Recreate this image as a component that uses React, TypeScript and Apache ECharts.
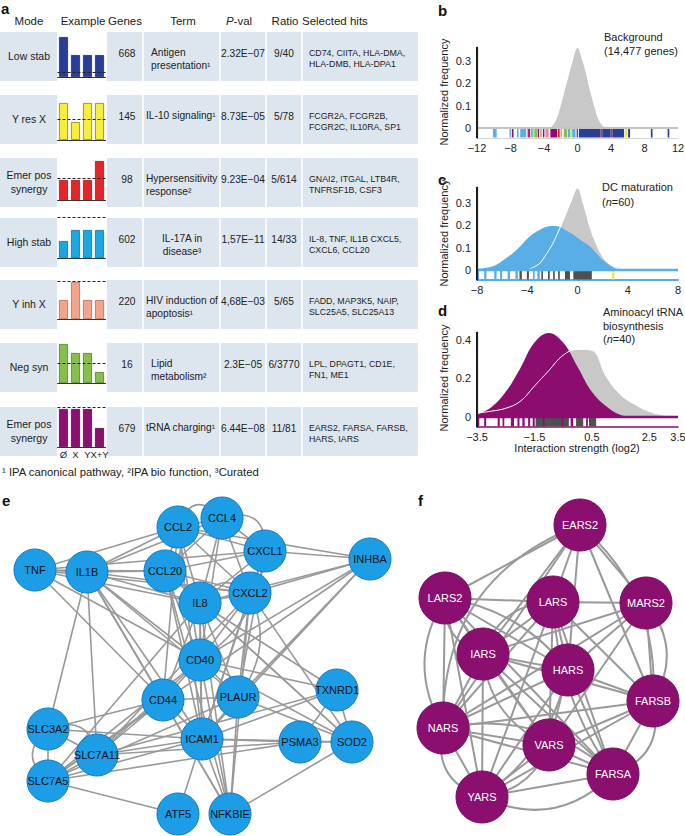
import React, { useEffect, useRef } from "react";
import * as echarts from "echarts";

const FONT = "'Liberation Sans', Arial, Helvetica, sans-serif";

// ---------------- Panel a: table data ----------------
const headers = ["Mode", "Example", "Genes", "Term", "P-val", "Ratio", "Selected hits"];
const modes = ["Low stab", "Y res X", "Emer pos\nsynergy", "High stab", "Y inh X", "Neg syn", "Emer pos\nsynergy"];
const geneCounts = ["668", "145", "98", "602", "220", "16", "679"];
const terms = [
  "Antigen\npresentation¹",
  "IL-10 signaling¹",
  "Hypersensitivity\nresponse²",
  "IL-17A in\ndisease³",
  "HIV induction of\napoptosis¹",
  "Lipid\nmetabolism²",
  "tRNA charging¹",
];
const pvals = ["2.32E−07", "8.73E−05", "9.23E−04", "1,57E−11", "4,68E−03", "2.3E−05", "6.44E−08"];
const ratios = ["9/40", "5/78", "5/614", "14/33", "5/65", "6/3770", "11/81"];
const hits = [
  "CD74, CIITA, HLA-DMA,\nHLA-DMB, HLA-DPA1",
  "FCGR2A, FCGR2B,\nFCGR2C, IL10RA, SP1",
  "GNAI2, ITGAL, LTB4R,\nTNFRSF1B, CSF3",
  "IL-8, TNF, IL1B CXCL5,\nCXCL6, CCL20",
  "FADD, MAP3K5, NAIP,\nSLC25A5, SLC25A13",
  "LPL, DPAGT1, CD1E,\nFN1, ME1",
  "EARS2, FARSA, FARSB,\nHARS, IARS",
];
const footnote = "¹ IPA canonical pathway, ²IPA bio function, ³Curated";

const exampleCats = ["Ø", "X", "Y", "X+Y"];
const exampleValues = [
  [40, 22, 22, 22],
  [37, 18, 37, 37],
  [20, 20, 20, 39],
  [17, 28, 28, 28],
  [19, 37, 19, 19],
  [39, 30, 30, 11],
  [38, 38, 38, 19],
];
const exampleExpected = [5, 21, 22, 41, 38, 20, 40];
const exampleColors = ["#283d97", "#f6ee3c", "#e4262b", "#1aa7e1", "#f4a48b", "#86c04b", "#8c0f72"];
const exampleBorders = ["#1f2f78", "#8c8000", "#a31414", "#0d6f9e", "#b86a55", "#4f7f25", "#5c0a4a"];

// ---------------- Panel b ----------------
const bX = [-3.5, -3, -2.5, -2, -1.5, -1, -0.5, 0, 0.5, 1, 1.5, 2, 2.5, 3, 3.5];
const bY = [0, 0.01, 0.04, 0.1, 0.17, 0.24, 0.31, 0.357, 0.31, 0.245, 0.165, 0.095, 0.038, 0.01, 0];
const bRug = [
  [-10.1, -9.65, 0], [-8.12, -7.96, 0], [-7.84, -7.64, 1], [-7.24, -7.04, 0], [-6.84, -6.12, 0],
  [-5.96, -5.64, 11], [-5.56, -5.24, 7], [-5.16, -4.84, 6], [-4.76, -4.6, 1], [-4.52, -4.24, 5],
  [-4.12, -3.96, 1], [-3.84, -3.44, 10], [-3.24, -2.44, 1], [-2.36, -2.12, 3], [-2.04, -1.84, 5],
  [-1.64, -1.24, 6], [-1.16, -0.84, 0], [-0.84, -0.64, 4], [-0.64, -0.24, 0], [-0.1, 0.0, 2],
  [0.16, 2.76, 2], [2.76, 2.96, 3], [2.96, 3.96, 2], [3.96, 4.16, 3], [4.16, 5.56, 2],
  [5.64, 5.96, 4], [6.04, 6.28, 2], [8.76, 8.96, 2], [10.76, 10.96, 2],
];
const bXTicks = [-12, -8, -4, 0, 4, 8, 12];
const bYTicks = [0, 0.1, 0.2, 0.3];

// ---------------- Panel c ----------------
const cGrayX = [-4, -3.5, -3, -2.5, -2, -1.5, -1, -0.5, 0, 0.5, 1, 1.5, 2, 2.5, 3, 3.5];
const cGrayY = [0, 0.013, 0.03, 0.07, 0.115, 0.175, 0.24, 0.31, 0.367, 0.29, 0.19, 0.115, 0.06, 0.028, 0.01, 0];
const cBlueX = [-8, -7.5, -7, -6.5, -6, -5.5, -5, -4.5, -4, -3.5, -3, -2.5, -2, -1.5, -1, -0.5, 0, 0.5, 1, 1.5, 2, 2.5, 3, 3.5, 4];
const cBlueY = [0.004, 0.008, 0.012, 0.022, 0.04, 0.06, 0.083, 0.11, 0.14, 0.163, 0.18, 0.193, 0.197, 0.195, 0.18, 0.163, 0.145, 0.125, 0.105, 0.075, 0.045, 0.025, 0.012, 0.004, 0];
const cRug = [
  [-8, -7.85, 0], [-7.43, -7.25, 0], [-6.63, -6.44, 0], [-6.17, -6.0, 0], [-5.56, -5.37, 0],
  [-4.94, -4.75, 0], [-4.62, -4.43, 9], [-4.03, -3.87, 9], [-3.55, -3.41, 0], [-3.2, -3.0, 0],
  [-2.88, -2.75, 9], [-2.35, -2.21, 9], [-1.94, -1.81, 9], [-1.54, -1.41, 9], [-1.0, -0.6, 9],
  [-0.33, 1.14, 9], [2.75, 2.93, 4],
];
const cXTicks = [-8, -4, 0, 4, 8];
const cYTicks = [0, 0.1, 0.2, 0.3];

// ---------------- Panel d ----------------
const dGrayX = [-3.5, -3, -2.5, -2, -1.5, -1, -0.5, 0, 0.5, 1, 1.5, 2, 2.5, 3, 3.5];
const dGrayY = [0.02, 0.03, 0.045, 0.08, 0.16, 0.24, 0.32, 0.35, 0.345, 0.21, 0.115, 0.065, 0.028, 0.01, 0.003];
const dPurpleX = [-3.5, -3, -2.5, -2, -1.5, -1, -0.5, 0, 0.5, 1, 1.5, 2];
const dPurpleY = [0.012, 0.05, 0.13, 0.25, 0.385, 0.435, 0.385, 0.26, 0.13, 0.055, 0.01, 0];
const dRug = [
  [-3.5, -3.42, 1], [-3.25, -3.18, 1], [-2.78, -2.71, 1], [-2.61, -2.55, 1], [-2.32, -2.21, 1],
  [-2.09, -2.02, 1], [-1.92, -1.84, 1], [-1.72, -1.65, 1], [-1.56, -1.49, 1], [-1.46, -0.3, 9],
  [-1.2, -1.15, 1], [-0.55, -0.5, 1], [-0.24, -0.15, 1], [-0.05, 0.2, 9], [0.3, 0.36, 1], [0.4, 0.65, 9],
];
const dXTicks = [-3.5, -1.5, 0.5, 2.5, 3.5];
const dYTicks = [0, 0.2, 0.4];

const rugPalette = ["#5aaee6", "#8b0d6e", "#2a3d98", "#e4262b", "#f2ea3a", "#f2a48a", "#86c04b", "#72c7b8", "#1aa7e1", "#505050", "#e38aa8", "#c0206a"];

// ---------------- Panel e network ----------------
const eNames = ["CCL2", "CCL4", "CXCL1", "INHBA", "TNF", "IL1B", "CCL20", "IL8", "CXCL2", "CD40", "CD44", "PLAUR", "TXNRD1", "SLC3A2", "ICAM1", "PSMA3", "SOD2", "SLC7A11", "SLC7A5", "ATF5", "NFKBIE"];
const eX = [178, 222, 265, 370, 35, 87, 165, 200, 250, 200, 163, 238, 337, 48, 202, 300, 352, 97, 48, 178, 230];
const eY = [27, 18, 51, 59, 70, 72, 71, 103, 93, 160, 200, 197, 190, 229, 239, 242, 242, 255, 281, 314, 314];
const eLinks: [string, string, number?][] = [
  ["TNF", "IL1B"], ["TNF", "CCL20"], ["TNF", "CCL2"], ["TNF", "CXCL1"], ["TNF", "IL8"], ["TNF", "CD40"], ["TNF", "ICAM1"], ["TNF", "CXCL2"],
  ["IL1B", "CCL2"], ["IL1B", "CCL4"], ["IL1B", "CCL20"], ["IL1B", "IL8"], ["IL1B", "CXCL2"], ["IL1B", "CD40"], ["IL1B", "CD44"], ["IL1B", "ICAM1"],
  ["IL1B", "SLC3A2"], ["IL1B", "SLC7A11"], ["IL1B", "PLAUR"], ["IL1B", "NFKBIE"],
  ["CCL2", "CCL4"], ["CCL2", "CXCL1"], ["CCL2", "CCL20"], ["CCL2", "IL8"], ["CCL2", "CXCL2"], ["CCL2", "INHBA"], ["CCL2", "CD40"], ["CCL2", "ICAM1"], ["CCL2", "CD44"],
  ["CCL4", "CXCL1"], ["CCL4", "CCL20"], ["CCL4", "IL8"], ["CCL4", "CXCL2"], ["CCL4", "CD40"],
  ["CXCL1", "CXCL2"], ["CXCL1", "IL8"], ["CXCL1", "CCL20"], ["CXCL1", "INHBA"], ["CXCL1", "PLAUR"], ["CXCL1", "ICAM1"],
  ["CCL20", "IL8"], ["CCL20", "CXCL2"], ["CCL20", "CD40"], ["CCL20", "ICAM1"], ["CCL20", "SOD2"], ["CCL20", "NFKBIE"],
  ["IL8", "CXCL2"], ["IL8", "CD40"], ["IL8", "CD44"], ["IL8", "PLAUR"], ["IL8", "ICAM1"], ["IL8", "INHBA"], ["IL8", "TXNRD1"], ["IL8", "SOD2"], ["IL8", "NFKBIE"], ["IL8", "SLC7A5"],
  ["CXCL2", "INHBA"], ["CXCL2", "CD40"], ["CXCL2", "PLAUR"], ["CXCL2", "ICAM1"], ["CXCL2", "SOD2"], ["CXCL2", "NFKBIE"], ["CXCL2", "SLC7A11"],
  ["INHBA", "CD40"], ["INHBA", "PLAUR"], ["INHBA", "ICAM1"], ["INHBA", "SLC7A5"],
  ["CD40", "CD44"], ["CD40", "PLAUR"], ["CD40", "ICAM1"], ["CD40", "NFKBIE"], ["CD40", "SOD2"], ["CD40", "TXNRD1"], ["CD40", "SLC7A11"], ["CD40", "SLC7A5"],
  ["CD44", "PLAUR"], ["CD44", "ICAM1"], ["CD44", "SLC7A5"], ["CD44", "SLC7A11"], ["CD44", "SLC3A2"], ["CD44", "NFKBIE"],
  ["PLAUR", "ICAM1"], ["PLAUR", "NFKBIE"], ["PLAUR", "SOD2"], ["PLAUR", "SLC7A5"],
  ["ICAM1", "PSMA3"], ["ICAM1", "SOD2"], ["ICAM1", "TXNRD1"], ["ICAM1", "NFKBIE"], ["ICAM1", "ATF5"], ["ICAM1", "SLC3A2"], ["ICAM1", "SLC7A11"], ["ICAM1", "SLC7A5"],
  ["TXNRD1", "SOD2"], ["TXNRD1", "PSMA3"], ["TXNRD1", "SLC7A11"],
  ["PSMA3", "SOD2"], ["PSMA3", "SLC7A11"], ["SOD2", "NFKBIE"],
  ["SLC3A2", "SLC7A11"], ["SLC3A2", "SLC7A5"], ["SLC7A11", "SLC7A5"], ["SLC7A5", "ATF5"], ["SLC7A5", "PSMA3"],
  ["SLC3A2", "SLC7A5", -0.6], ["SLC3A2", "SLC7A11", 0.6], ["CCL4", "CXCL1", 0.7], ["CCL2", "CCL4", 0.8],
  ["CXCL2", "PLAUR", 0.3], ["CXCL1", "CD40", 0.25], ["IL8", "CXCL2", 0.6], ["CCL20", "CCL2", -0.4],
];

// ---------------- Panel f network ----------------
const fNames = ["EARS2", "LARS2", "LARS", "MARS2", "IARS", "HARS", "FARSB", "NARS", "VARS", "FARSA", "YARS"];
const fX = [190, 55, 163, 256, 93, 178, 263, 53, 159, 223, 92];
const fY = [25, 98, 102, 103, 154, 170, 201, 228, 245, 274, 297];
const fLinks: [string, string, number?][] = [
  ["EARS2", "LARS2"], ["EARS2", "LARS"], ["EARS2", "MARS2"], ["EARS2", "IARS"], ["EARS2", "HARS"], ["EARS2", "FARSB"], ["EARS2", "NARS"],
  ["LARS2", "LARS"], ["LARS2", "IARS"], ["LARS2", "HARS"], ["LARS2", "NARS"], ["LARS2", "VARS"], ["LARS2", "YARS"], ["LARS2", "FARSA"],
  ["LARS", "MARS2"], ["LARS", "IARS"], ["LARS", "HARS"], ["LARS", "FARSB"], ["LARS", "NARS"], ["LARS", "VARS"], ["LARS", "YARS"], ["LARS", "FARSA"],
  ["MARS2", "IARS"], ["MARS2", "HARS"], ["MARS2", "FARSB"], ["MARS2", "VARS"], ["MARS2", "NARS"],
  ["IARS", "HARS"], ["IARS", "FARSB"], ["IARS", "NARS"], ["IARS", "VARS"], ["IARS", "FARSA"], ["IARS", "YARS"],
  ["HARS", "FARSB"], ["HARS", "NARS"], ["HARS", "VARS"], ["HARS", "FARSA"], ["HARS", "YARS"],
  ["FARSB", "NARS"], ["FARSB", "VARS"], ["FARSB", "FARSA"], ["FARSB", "YARS"],
  ["NARS", "VARS"], ["NARS", "FARSA"], ["NARS", "YARS"], ["VARS", "FARSA"], ["VARS", "YARS"], ["FARSA", "YARS"],
  ["EARS2", "NARS", -0.35], ["MARS2", "FARSB", 0.35], ["FARSB", "FARSA", 0.45], ["YARS", "FARSA", -0.35],
  ["LARS2", "NARS", -0.3], ["NARS", "YARS", -0.45], ["IARS", "LARS", 0.35], ["LARS2", "HARS", 0.2],
  ["EARS2", "FARSB", 0.25], ["LARS", "FARSA", -0.15], ["HARS", "YARS", 0.2], ["IARS", "VARS", -0.3], ["NARS", "FARSA", 0.25],
  ["LARS2", "IARS", -0.4], ["VARS", "YARS", 0.3],
];

// ---------------- layout constants ----------------
const ROW_TOP = [32, 95, 158, 218, 280, 343, 407];
const ROW_H = 49;
const BASE_OFF = [45, 45, 42, 40, 39, 40, 40];

const fmtNum = (v: number) => (v < 0 ? "−" + String(Math.abs(v)) : String(v));
const zip = (xs: number[], ys: number[]) => xs.map((x, i) => [x, ys[i]]);

function buildOption() {
  const graphic: any[] = [];
  const txt = (x: number, y: number, text: string, o: any = {}) =>
    graphic.push({
      type: "text",
      x,
      y,
      silent: true,
      rotation: o.rotation || 0,
      style: {
        text,
        fontSize: 11,
        fontFamily: FONT,
        fill: "#222",
        textAlign: "left",
        textVerticalAlign: "middle",
        ...o.style,
      },
    });

  // panel letters
  const letter = (x: number, y: number, t: string) => txt(x, y, t, { style: { fontSize: 15, fontWeight: "bold", fill: "#111" } });
  letter(1, 8, "a");
  letter(438, 10, "b");
  letter(438, 179, "c");
  letter(438, 310, "d");
  letter(2, 500, "e");
  letter(418, 500, "f");

  // header
  const hy = 21;
  const hs = { fontSize: 11.5 };
  txt(29, hy, headers[0], { style: { ...hs, textAlign: "center" } });
  txt(83, hy, headers[1], { style: { ...hs, textAlign: "center" } });
  txt(125, hy, headers[2], { style: { ...hs, textAlign: "center" } });
  txt(183, hy, headers[3], { style: { ...hs, textAlign: "center" } });
  txt(239, hy, "{i|P}-val", {
    style: { ...hs, textAlign: "center", rich: { i: { fontStyle: "italic", fontSize: 11.5, fontFamily: FONT, fill: "#222" } } },
  });
  txt(285, hy, headers[5], { style: { ...hs, textAlign: "center" } });
  txt(302, hy, headers[6], { style: hs });

  // rows
  const bs = { fontSize: 10.2 };
  ROW_TOP.forEach((T, i) => {
    graphic.push({ type: "rect", silent: true, shape: { x: 0, y: T, width: 418, height: ROW_H }, style: { fill: "#dde6ee" } });
    graphic.push({ type: "rect", silent: true, shape: { x: 57, y: T, width: 50, height: ROW_H }, style: { fill: "#ffffff" } });
    [143, 220, 266, 302].forEach((x) =>
      graphic.push({ type: "rect", silent: true, shape: { x: x - 0.75, y: T, width: 1.5, height: ROW_H }, style: { fill: "#ffffff" } })
    );
    txt(29, T + 24, modes[i], { style: { ...bs, fontSize: 10.5, textAlign: "center", lineHeight: 14 } });
    txt(127, T + 21, geneCounts[i], { style: { ...bs, textAlign: "center" } });
    const centered = i === 3;
    const indent = i === 0 || i === 5 ? 5 : 0;
    txt(centered ? 182 : 146 + indent, T + 14.5, terms[i], {
      style: { ...bs, textAlign: centered ? "center" : "left", textVerticalAlign: "top", lineHeight: 12.5 },
    });
    txt(243, T + 21, pvals[i], { style: { ...bs, textAlign: "center" } });
    txt(284, T + 21, ratios[i], { style: { ...bs, textAlign: "center" } });
    txt(309, T + 15.5, hits[i], { style: { fontSize: 8.8, textVerticalAlign: "top", lineHeight: 11 } });
  });
  txt(2, 472, footnote, { style: { fontSize: 11.3 } });

  // panel b/c/d annotations
  txt(604, 37, "Background", {});
  txt(604, 51, "(14,477 genes)", {});
  txt(602, 187, "DC maturation", {});
  txt(602, 202, "({i|n}=60)", { style: { rich: { i: { fontStyle: "italic", fontSize: 11, fontFamily: FONT, fill: "#222" } } } });
  txt(603, 312, "Aminoacyl tRNA", {});
  txt(603, 325.5, "biosynthesis", {});
  txt(603, 339, "({i|n}=40)", { style: { rich: { i: { fontStyle: "italic", fontSize: 11, fontFamily: FONT, fill: "#222" } } } });
  [92, 233, 378].forEach((cy) => txt(444, cy, "Normalized frequency", { rotation: Math.PI / 2, style: { textAlign: "center" } }));
  txt(577, 448, "Interaction strength (log2)", { style: { textAlign: "center" } });

  const grid: any[] = [];
  const xAxis: any[] = [];
  const yAxis: any[] = [];
  const series: any[] = [];

  // mini bar charts
  exampleValues.forEach((vals, i) => {
    const base = ROW_TOP[i] + BASE_OFF[i];
    grid.push({ left: 57.5, width: 48, top: base - 42, height: 42, outerBoundsMode: "none", containLabel: false });
    xAxis.push({
      gridIndex: i,
      type: "category",
      data: exampleCats,
      axisLine: { show: true, lineStyle: { color: "#333", width: 1 } },
      axisTick: { show: false },
      splitLine: { show: false },
      axisLabel: { show: i === 6, interval: 0, fontSize: 9.5, margin: 2, color: "#222", fontFamily: FONT },
    });
    yAxis.push({ gridIndex: i, type: "value", min: 0, max: 42, show: false, splitLine: { show: false } });
    series.push({
      type: "bar",
      xAxisIndex: i,
      yAxisIndex: i,
      data: vals,
      barWidth: 9,
      silent: true,
      itemStyle: { color: exampleColors[i], borderColor: exampleBorders[i], borderWidth: 0.8 },
      markLine: {
        silent: true,
        symbol: "none",
        label: { show: false },
        lineStyle: { color: "#222", type: [3, 2], width: 1 },
        data: [{ yAxis: exampleExpected[i] }],
      },
    });
  });

  // histogram panels
  const hist = (
    gi: number,
    box: { top: number; height: number },
    xr: [number, number],
    yr: [number, number],
    xt: number[],
    yt: number[],
    bottomLine: { color: string; width: number },
    topLine: { color: string; width: number },
    gray: number[][],
    colored: { data: number[][]; color: string } | null,
    rug: number[][]
  ) => {
    grid.push({ left: 477, width: 201, top: box.top, height: box.height, outerBoundsMode: "none", containLabel: false });
    xAxis.push({
      gridIndex: gi,
      type: "value",
      min: xr[0],
      max: xr[1],
      axisLine: { show: true, onZero: false, lineStyle: bottomLine },
      axisTick: { show: false },
      splitLine: { show: false },
      axisLabel: { customValues: xt, formatter: (v: number) => fmtNum(v), fontSize: 11, margin: 4, color: "#222", fontFamily: FONT },
    });
    yAxis.push({
      gridIndex: gi,
      type: "value",
      min: yr[0],
      max: yr[1],
      position: "left",
      axisLine: { show: true, onZero: false, lineStyle: { color: "#222", width: 1.2 } },
      axisTick: { show: false },
      splitLine: { show: false },
      axisLabel: { customValues: yt, formatter: (v: number) => String(v), fontSize: 11, margin: 6, color: "#222", fontFamily: FONT },
      z: 10,
    });
    series.push({
      type: "line",
      xAxisIndex: gi,
      yAxisIndex: gi,
      data: gray,
      smooth: 0.4,
      symbol: "none",
      silent: true,
      z: 1,
      lineStyle: { width: 0, color: "#c8c8c8" },
      areaStyle: { color: "#c8c8c8", opacity: 1 },
    });
    if (colored) {
      series.push({
        type: "line",
        xAxisIndex: gi,
        yAxisIndex: gi,
        data: colored.data,
        smooth: 0.4,
        symbol: "none",
        silent: true,
        z: 2,
        lineStyle: { width: 0, color: colored.color },
        areaStyle: { color: colored.color, opacity: 1 },
      });
      series.push({
        type: "line",
        xAxisIndex: gi,
        yAxisIndex: gi,
        data: gray,
        smooth: 0.4,
        symbol: "none",
        silent: true,
        z: 3,
        lineStyle: { width: 1, color: "#ffffff" },
      });
    }
    const yMin = yr[0];
    series.push({
      type: "custom",
      xAxisIndex: gi,
      yAxisIndex: gi,
      silent: true,
      z: 4,
      dimensions: ["start", "end", "color"],
      encode: { x: [0, 1] },
      data: rug,
      renderItem: (params: any, api: any) => {
        const s = api.coord([api.value(0), 0]);
        const e = api.coord([api.value(1), yMin]);
        return {
          type: "rect",
          shape: { x: s[0], y: s[1] + 1, width: Math.max(e[0] - s[0], 1.2), height: e[1] - s[1] - 1.5 },
          style: { fill: rugPalette[api.value(2)] },
        };
      },
    });
    series.push({
      type: "line",
      xAxisIndex: gi,
      yAxisIndex: gi,
      data: [[xr[0], 0], [xr[1], 0]],
      symbol: "none",
      silent: true,
      clip: false,
      z: 5,
      lineStyle: topLine,
    });
    // left axis spine, drawn as a thin rect through the axis scale
    series.push({
      type: "custom",
      xAxisIndex: gi,
      yAxisIndex: gi,
      silent: true,
      clip: false,
      z: 10,
      data: [[xr[0], yr[0], yr[1]]],
      encode: { x: 0, y: [1, 2] },
      renderItem: (params: any, api: any) => {
        const a = api.coord([api.value(0), api.value(1)]);
        const b = api.coord([api.value(0), api.value(2)]);
        return {
          type: "rect",
          shape: { x: a[0] - 1, y: b[1], width: 1.8, height: a[1] - b[1] },
          style: { fill: "#1a1a1a" },
        };
      },
    });
  };

  hist(7, { top: 47, height: 91 }, [-12, 12], [-0.045, 0.362], bXTicks, bYTicks, { color: "#d4d4d4", width: 1 }, { color: "#c4c4c4", width: 2 }, zip(bX, bY), null, bRug);
  hist(8, { top: 187, height: 93 }, [-8, 8], [-0.045, 0.372], cXTicks, cYTicks, { color: "#5aaee6", width: 2 }, { color: "#5aaee6", width: 2.5 }, zip(cGrayX, cGrayY), { data: zip(cBlueX, cBlueY), color: "#5aaee6" }, cRug);
  hist(9, { top: 332, height: 95 }, [-3.5, 3.5], [-0.052, 0.44], dXTicks, dYTicks, { color: "#8b0d6e", width: 1.5 }, { color: "#8b0d6e", width: 2.5 }, zip(dGrayX, dGrayY), { data: zip(dPurpleX, dPurpleY), color: "#8b0d6e" }, dRug);

  // networks
  const net = (gi: number, left: number, w: number, names: string[], xs: number[], ys: number[], links: [string, string, number?][], node: any) => {
    grid.push({ left, top: 500, width: w, height: 336, outerBoundsMode: "none", containLabel: false });
    xAxis.push({ gridIndex: gi, type: "value", min: 0, max: w, show: false, splitLine: { show: false } });
    yAxis.push({ gridIndex: gi, type: "value", min: 0, max: 336, inverse: true, show: false, splitLine: { show: false } });
    series.push({
      type: "graph",
      coordinateSystem: "cartesian2d",
      xAxisIndex: gi,
      yAxisIndex: gi,
      silent: true,
      symbol: "circle",
      symbolSize: node.size,
      itemStyle: node.itemStyle,
      label: { show: true, position: "inside", fontSize: 11, fontFamily: FONT, color: node.labelColor },
      lineStyle: { color: "#999999", width: node.edgeWidth, opacity: 1, curveness: 0 },
      emphasis: { disabled: true },
      data: names.map((n, i) => ({ name: n, value: [xs[i], ys[i]] })),
      links: links.map(([s, t, c]) => (c ? { source: s, target: t, lineStyle: { curveness: c } } : { source: s, target: t })),
      z: 3,
    });
  };
  net(10, 0, 390, eNames, eX, eY, eLinks, {
    size: 42,
    itemStyle: { color: "#1c9de6", borderColor: "#1479c2", borderWidth: 1 },
    labelColor: "#111",
    edgeWidth: 1.6,
  });
  net(11, 390, 295, fNames, fX, fY, fLinks, {
    size: 52,
    itemStyle: { color: "#8b0f6f", borderColor: "#7a0b60", borderWidth: 1 },
    labelColor: "#ffffff",
    edgeWidth: 2,
  });

  return {
    animation: false,
    backgroundColor: "#ffffff",
    textStyle: { fontFamily: FONT },
    graphic: { elements: graphic },
    grid,
    xAxis,
    yAxis,
    series,
  };
}

export default function App() {
  const ref = useRef<HTMLDivElement>(null);
  useEffect(() => {
    if (!ref.current) return;
    const chart = echarts.init(ref.current, null, { renderer: "svg", width: 685, height: 836 });
    chart.setOption(buildOption() as any);
    return () => chart.dispose();
  }, []);
  return <div ref={ref} style={{ position: "absolute", left: 0, top: 0, width: 685, height: 836, background: "#fff" }} />;
}
